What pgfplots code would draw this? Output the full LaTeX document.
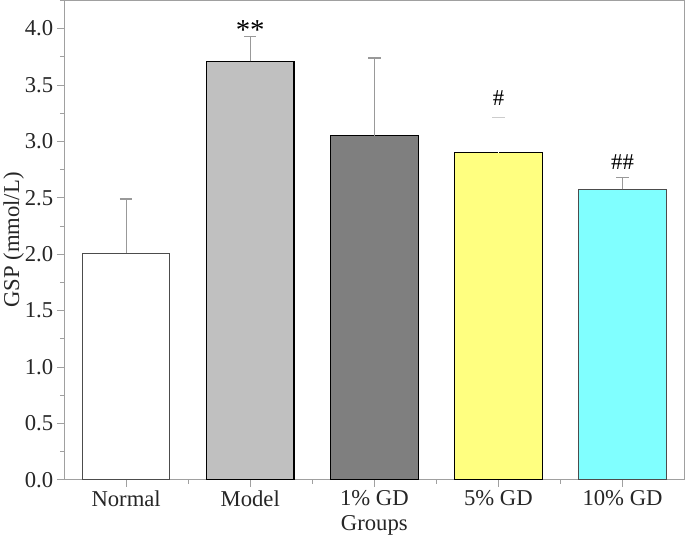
\documentclass[border=0pt]{standalone}
\usepackage{fontspec}
\setmainfont{Liberation Serif}
\usepackage{pgfplots}
\pgfplotsset{compat=1.18}

\definecolor{modelgray}{HTML}{C0C0C0}
\definecolor{darkbar}{HTML}{7F7F7F}
\definecolor{yelbar}{HTML}{FFFF80}
\definecolor{cyanbar}{HTML}{80FFFF}
\definecolor{axgray}{HTML}{A0A0A0}

\begin{document}
\begin{tikzpicture}
\begin{axis}[
    scale only axis,
    width=602pt, height=465pt,
    xmin=-0.5, xmax=4.5,
    ymin=0, ymax=4.25,
    ybar, bar width=85pt, bar shift=0pt,
    xtick={0,1,2,3,4},
    xticklabels={Normal,Model,1\% GD,5\% GD,10\% GD},
    minor xtick={0.5,1.5,2.5,3.5},
    ytick={0,0.5,...,4.0},
    minor ytick={0.25,0.75,...,4.25},
    yticklabel style={/pgf/number format/.cd,fixed,fixed zerofill,precision=1,assume math mode=true},
    tick pos=left,
    tick align=outside,
    major tick length=7pt,
    minor tick length=4pt,
    every tick/.style={axgray, line width=0.8pt},
    axis line style={axgray, line width=0.8pt},
    tick label style={font=\fontsize{22}{26}\selectfont, text=black!85},
    label style={font=\fontsize{22}{26}\selectfont, text=black!85},
    xlabel={Groups},
    ylabel={GSP (mmol/L)},
    xlabel style={yshift=-2pt},
    ylabel style={yshift=-6pt},
    error bars/y dir=plus,
    error bars/y explicit,
    error bars/error bar style={gray!80, line width=1pt},
    error bars/error mark options={gray!80, line width=1.2pt, mark size=6pt, rotate=90},
    clip=false,
]
\addplot[draw=black!70, line width=0.9pt, fill=white] coordinates {(0,2.01) +- (0,0.48)};
\addplot[draw=black, line width=1.2pt, fill=modelgray] coordinates {(1,3.71) +- (0,0.22)};
\addplot[draw=black, line width=1.2pt, fill=darkbar] coordinates {(2,3.05) +- (0,0.69)};
\addplot[draw=black, line width=1.2pt, fill=yelbar,
    error bars/error bar style={white, line width=0.6pt},
    error bars/error mark options={gray!40, line width=1pt, mark size=6pt, rotate=90}]
    coordinates {(3,2.90) +- (0,0.31)};
\addplot[draw=black!70, line width=1.2pt, fill=cyanbar] coordinates {(4,2.575) +- (0,0.105)};
\node[font=\fontsize{28}{30}\selectfont] at (axis cs:1,3.99) {**};
\node[font=\fontsize{22}{26}\selectfont] at (axis cs:3,3.38) {\#};
\node[font=\fontsize{22}{26}\selectfont] at (axis cs:4,2.82) {\#\#};
\end{axis}
\end{tikzpicture}
\end{document}
